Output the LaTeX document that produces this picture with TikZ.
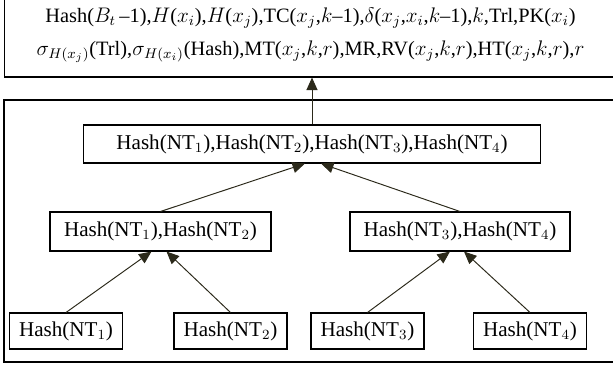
\documentclass[tikz,border=0pt]{standalone}
\usepackage{fontspec}
\setmainfont{Liberation Serif}
\usepackage{tikz}
\usetikzlibrary{calc,arrows.meta}

\definecolor{arrowcol}{RGB}{43,41,26}

\tikzset{
  hashbox/.style={draw, line width=0.6pt, inner sep=1pt, minimum height=0.74cm},
  leafbox/.style={hashbox, minimum width=2.26cm, minimum height=0.72cm},
  uparrow/.style={draw=arrowcol, line width=0.55pt, -{Triangle[length=2.5mm,width=2.2mm]}}
}

\begin{document}
\begin{tikzpicture}[x=0.02cm, y=-0.02cm, font=\fontsize{12}{18.7}\selectfont]
            \useasboundingbox (0,0) rectangle (613,370);
            % block content on top
            \node[draw, line width=0.6pt, align=center, minimum width=12.26cm, minimum height=1.68cm,
                  font=\fontsize{11.6}{18.7}\selectfont] (info) at (310.5,35)
                {Hash($B_t$\,--1),$H$($x_i$),$H$($x_j$),TC($x_j$,$k$--1),$\delta$($x_j$,$x_i$,$k$--1),$k$,Trl,PK($x_i$)\\
                 $\sigma_{H(x_j)}$(Trl),$\sigma_{H(x_i)}$(Hash),MT($x_j$,$k$,$r$),MR,RV($x_j$,$k$,$r$),HT($x_j$,$k$,$r$),$r$};
            % frame round the tree
            \draw[line width=0.6pt] (4,100) rectangle (625,362);
            % the tree of hashes
            \node[hashbox, minimum width=9.16cm, minimum height=0.76cm] (root) at (312,144) {Hash(NT$_1$),Hash(NT$_2$),Hash(NT$_3$),Hash(NT$_4$)};
            \node[hashbox, minimum width=4.42cm, minimum height=0.78cm] (lefthash) at (160.5,231.5) {Hash(NT$_1$),Hash(NT$_2$)};
            \node[hashbox, minimum width=4.40cm, minimum height=0.78cm] (righthash) at (460,231.5) {Hash(NT$_3$),Hash(NT$_4$)};
            \node[leafbox] (leafa) at (66,331) {Hash(NT$_1$)};
            \node[leafbox] (leafb) at (230.5,331) {Hash(NT$_2$)};
            \node[leafbox] (leafc) at (367.5,331) {Hash(NT$_3$)};
            \node[leafbox] (leafd) at (530,331) {Hash(NT$_4$)};
            % arrows up the tree
            \draw[uparrow] (leafa.north) -- ($(lefthash.south)+(-9,0)$);
            \draw[uparrow] (leafb.north) -- ($(lefthash.south)+(6,0)$);
            \draw[uparrow] (leafc.north) -- ($(righthash.south)+(-10,0)$);
            \draw[uparrow] (leafd.north) -- ($(righthash.south)+(4,0)$);
            \draw[uparrow] (lefthash.north) -- ($(root.south)+(-7,0)$);
            \draw[uparrow] (righthash.north) -- ($(root.south)+(9,0)$);
            \draw[uparrow] (root.north) -- (root.north |- info.south);
\end{tikzpicture}
\end{document}
